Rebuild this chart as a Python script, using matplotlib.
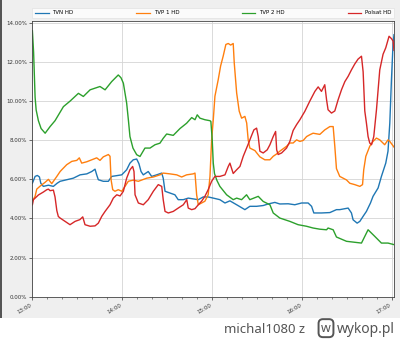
import matplotlib
matplotlib.use("Agg")
import matplotlib.pyplot as plt
from matplotlib.patches import Rectangle
from matplotlib.ticker import FixedLocator, MultipleLocator, FuncFormatter

# minutes after 13:00 and share values (%)
tvn_t = [0, 1.8, 3.3, 4.7, 5.6, 7.3, 10.7, 14, 16.5, 18.5, 22.9, 27.3, 31.8, 36.3, 39.6, 41.8, 42.9, 44,
         47.3, 50.7, 52.9, 56.3, 59.6, 62.9, 65.1, 67.3, 69.6, 71.1, 72.5, 74, 77.3, 79.6, 82.9, 86.3, 87.3,
         88.5, 91.8, 95.1, 97.3, 100.7, 104, 107.3, 110.7, 114, 117.3, 120.7, 125.1, 128.5, 131.8, 136.3,
         141.8, 145.1, 149.6, 154, 157.3, 161.8, 165.1, 170.7, 175.1, 179.6, 184, 186.3, 187.8, 192.9, 198.5,
         202.9, 205.1, 210.7, 212.9, 214, 216.7, 218.5, 220.7, 222.9, 225.6, 227.3, 230.7, 232.9, 235.8,
         237.3, 238.5, 239.6, 240.7, 241.3]
tvn_v = [5.8, 6.15, 6.2, 6.12, 5.8, 5.64, 5.7, 5.64, 5.8, 5.9, 5.98, 6.06, 6.23, 6.28, 6.4, 6.52, 6.23, 5.98,
         5.9, 5.9, 6.15, 6.19, 6.23, 6.49, 6.83, 7.0, 7.04, 6.8, 6.4, 6.23, 6.4, 6.15, 6.23, 6.32, 6.06,
         5.39, 5.3, 5.21, 4.96, 4.96, 5.04, 5.0, 4.96, 5.1, 5.1, 5.04, 4.96, 4.79, 4.9, 4.7,
         4.45, 4.62, 4.62, 4.66, 4.74, 4.82, 4.74, 4.75, 4.7, 4.79, 4.79, 4.62, 4.28, 4.28, 4.3,
         4.45, 4.45, 4.53, 4.28, 3.93, 3.76, 3.85, 4.11, 4.36, 4.79, 5.13, 5.56, 6.15, 6.83,
         7.44, 8.88, 11.1, 12.98, 13.4]

tvp1_t = [0, 1.8, 2.9, 5.1, 8.5, 10.7, 12.9, 16.3, 18.5, 19.6, 22.9, 26.3, 29.6, 31.3, 32.9, 36.3, 39.6,
          42.9, 45.1, 47.3, 50.7, 51.8, 52.5, 53.6, 55.1, 57.3, 59.6, 61.8, 64, 67.3, 70.7, 76.3, 80.7,
          85.1, 87.3, 91.8, 96.3, 99.6, 102.9, 107.3, 108.5, 109.6, 110.7, 112.9, 115.1, 117.3, 118.5,
          119.6, 120.7, 121.8, 124, 125.6, 127.3, 129.1, 130.7, 132.3, 134, 134.7, 136.3, 138, 139.6,
          141.8, 143, 144, 145.1, 148.5, 151.8, 155.1, 158.5, 160.7, 163, 165.1, 169.6, 171.8, 174,
          176.3, 178.5, 180.7, 183, 185.1, 187.3, 191.8, 195.1, 198.5, 200.7, 201.8, 202.9, 205.1,
          209.6, 211.8, 215.1, 218.5, 220.3, 221.1, 222.5, 225.1, 227.3, 229.6, 231.8, 235.1, 237.3,
          238.5, 241.3]
tvp1_v = [4.9, 5.13, 5.5, 5.65, 5.85, 6.0, 5.78, 6.15, 6.4, 6.49, 6.75, 6.92, 6.97, 7.1, 6.83, 6.9, 7.0,
          7.1, 6.97, 7.15, 7.27, 7.18, 5.98, 5.47, 5.39, 5.47, 5.39, 5.64, 5.9, 5.96, 5.9, 6.06, 6.12,
          6.23, 6.32, 6.28, 6.23, 6.12, 6.23, 6.28, 6.32, 5.21, 4.7, 4.79, 4.88, 5.21, 6.15,
          8.02, 9.05, 10.25, 11.1, 11.8, 12.3, 12.9, 12.95, 12.87, 12.95, 11.95, 10.42, 9.49, 9.13,
          9.22, 8.88, 8.02, 7.6, 7.47, 7.15, 7.0, 7.0, 7.18, 7.3, 7.44, 7.69, 7.86, 7.86,
          8.02, 7.94, 7.99, 8.19, 8.28, 8.36, 8.3, 8.53, 8.7, 8.7, 7.69, 6.55, 6.15,
          5.97, 5.8, 5.73, 5.64, 5.73, 6.49, 7.18, 7.69, 7.94, 8.11, 8.02, 7.77, 8.02,
          7.94, 7.65]

tvp2_t = [0, 0.8, 1.8, 2.5, 4, 5.8, 8.5, 11.8, 15.1, 20.7, 25.1, 30.7, 34, 38.5, 45.1, 48.5, 52.9, 57.3,
          59.1, 60.7, 62.9, 64.1, 65.1, 67.1, 69.6, 71.8, 75.1, 78.5, 81.8, 85.1, 87.3, 89.6, 94, 98.5,
          102.9, 106.3, 108.5, 110, 111.8, 115.1, 118.5, 119.1, 120, 120.7, 121.5, 123.1, 125.1, 129.6,
          134, 136.3, 139.6, 142.9, 145.1, 150.7, 154, 158.5, 160.7, 165.1, 171.8, 177.3, 182.9, 187.3,
          191.8, 196.3, 197.3, 200.7, 202.9, 209.6, 219.6, 221.8, 224, 228.5, 232.9, 237.3, 241.3]
tvp2_v = [13.6, 12.5, 10.2, 9.55, 9.0, 8.6, 8.36, 8.7, 9.0, 9.72, 10.0, 10.4, 10.24, 10.58, 10.75, 10.58,
          11.0, 11.34, 11.2, 10.92, 9.9, 9.0, 8.19, 7.6, 7.26, 7.17, 7.6, 7.6, 7.77, 7.85, 8.1, 8.32, 8.25,
          8.6, 8.87, 9.16, 9.05, 9.3, 9.13, 9.05, 9.0, 8.96, 8.02, 6.83, 6.3, 5.95, 5.64, 5.21,
          4.96, 5.04, 4.96, 5.21, 4.96, 5.13, 4.87, 4.7, 4.28, 4.02, 3.85, 3.68, 3.6, 3.51,
          3.45, 3.42, 3.51, 3.42, 3.05, 2.83, 2.74, 3.08, 3.42, 3.08, 2.74, 2.74, 2.66]

polsat_t = [0, 0.7, 1.8, 4, 7.3, 9.6, 10.7, 11.8, 14, 15.1, 16.3, 17.3, 18.5, 21.8, 25.1, 28.5, 31.7, 33.6,
            35.1, 38.5, 41.8, 44, 46.3, 48.5, 51.8, 54, 56.3, 58.5, 60.7, 62.9, 65.1, 66.9, 67.8, 68.5,
            70.7, 74, 77.3, 80.7, 84, 86.3, 87.3, 88.5, 90.7, 94, 97.3, 100.7, 103, 104, 106.3, 108.5,
            110.7, 112.9, 115.1, 117.3, 119.6, 121.8, 125.1, 128.5, 130.7, 131.8, 134, 136.3, 138.5,
            140.7, 144, 146.3, 147.8, 149.6, 150.7, 151.8, 154, 156.7, 158.5, 160.7, 162.3, 163, 164,
            166.3, 169.6, 171.8, 174, 176.3, 178.5, 181.8, 185.1, 188.5, 190.7, 192.9, 195.1, 196.3,
            197.3, 199.6, 201.8, 204, 206.3, 208.5, 210.7, 212.9, 215.1, 217.3, 219.6, 220.7, 221.8,
            222.9, 224, 225.1, 226.3, 227.8, 229.6, 231.8, 234, 235.8, 238, 239.6, 240.7, 241.3]
polsat_v = [4.7, 4.96, 5.04, 5.2, 5.35, 5.47, 5.5, 5.42, 5.45, 5.1, 4.4, 4.1, 4.02, 3.85, 3.68, 3.85, 3.94,
            4.08, 3.68, 3.6, 3.62, 3.76, 4.11, 4.36, 4.7, 5.04, 5.21, 5.15, 5.39, 6.06, 6.49, 6.66, 6.4,
            5.21, 4.79, 4.7, 4.96, 5.39, 5.73, 5.64, 4.96, 4.36, 4.28, 4.36, 4.53, 4.7, 4.96, 4.53, 4.45,
            4.5, 4.7, 4.88, 5.13, 5.47, 5.9, 6.15, 6.15, 6.23, 6.66, 6.83, 6.3, 6.49, 6.66,
            7.18, 7.8, 8.25, 8.53, 8.62, 8.19, 7.44, 7.35, 7.51, 7.77, 8.19, 8.45, 7.51, 7.27,
            7.35, 7.6, 7.94, 8.5, 8.8, 9.05, 9.48, 10.0, 10.5, 10.73, 10.5, 10.84, 10.07,
            9.56, 9.39, 9.5, 10.07, 10.59, 11.0, 11.27, 11.6, 11.9, 12.15, 12.3, 11.5, 9.5,
            8.88, 8.19, 7.86, 7.77, 8.19, 9.56, 11.6, 12.4, 12.73, 13.32, 13.2, 13.07, 12.6]

names = ["TVN HD", "TVP 1 HD", "TVP 2 HD", "Polsat HD"]
colors = ["#1f77b4", "#ff7f0e", "#2ca02c", "#d62728"]
series = [(tvn_t, tvn_v), (tvp1_t, tvp1_v), (tvp2_t, tvp2_v), (polsat_t, polsat_v)]
hour_ticks = [0, 60, 120, 180, 240]
hour_labels = ["13:00", "14:00", "15:00", "16:00", "17:00"]
y_ticks = [0, 2, 4, 6, 8, 10, 12, 14]

fig = plt.figure(figsize=(4.0, 3.39), dpi=100, facecolor="white")
# gray screenshot background and dark left edge
fig.patches.append(Rectangle((0, 21 / 339), 1, 1 - 21 / 339, transform=fig.transFigure,
                             facecolor="#efefef", edgecolor="none", zorder=-10))
fig.patches.append(Rectangle((0, 21 / 339), 2 / 400, 1 - 21 / 339, transform=fig.transFigure,
                             facecolor="#555555", edgecolor="none", zorder=-9))

ax = fig.add_axes([0.081, 0.125, 0.904, 0.813])
ax.set_facecolor("white")
for (t, v), n, c in zip(series, names, colors):
    ax.plot(t, v, color=c, lw=1.0, label=n)

ax.set_xlim(0, 241.3)
ax.set_ylim(0, 14.1)
ax.xaxis.set_major_locator(FixedLocator(hour_ticks))
ax.set_xticklabels(hour_labels)
ax.xaxis.set_minor_locator(MultipleLocator(10))
ax.yaxis.set_major_locator(FixedLocator(y_ticks))
ax.yaxis.set_major_formatter(FuncFormatter(lambda v, p: f"{v:.2f}%"))
ax.grid(True, which="major", color="#d4d4d4", lw=0.6)
ax.set_axisbelow(True)
ax.tick_params(axis="both", which="major", labelsize=4, length=2.5, width=0.5,
               colors="#333333", pad=1.5)
ax.tick_params(axis="x", which="minor", length=1.5, width=0.4, colors="#333333")
for lab in ax.get_xticklabels():
    lab.set_rotation(30)
    lab.set_ha("right")
for s in ax.spines.values():
    s.set_color("#444444")
    s.set_linewidth(0.6)

leg = ax.legend(loc="lower left", bbox_to_anchor=(0, 1.01, 1, 0.04), mode="expand", ncol=4,
                fontsize=4, handlelength=2.4, handletextpad=0.7, borderaxespad=0,
                frameon=True, fancybox=False, borderpad=0.5)
leg.get_frame().set_edgecolor("#dddddd")
leg.get_frame().set_linewidth(0.5)
for l in leg.get_lines():
    l.set_linewidth(0.9)

fig.text(0.763, 0.028, "michal1080 z", fontsize=9.5, color="#555555", ha="right", va="center",
         family="Noto Sans", weight="medium")
fig.text(0.815, 0.032, "w", fontsize=9, color="#555555", ha="center", va="center", weight="bold",
         family="Noto Sans",
         bbox=dict(boxstyle="round,pad=0.2,rounding_size=0.35", fc="white", ec="#555555", lw=1.4))
fig.text(0.988, 0.028, "wykop.pl", fontsize=10, color="#555555", ha="right", va="center",
         family="Noto Sans", weight="medium")

fig.savefig("out.png", dpi=100, facecolor=fig.get_facecolor())
